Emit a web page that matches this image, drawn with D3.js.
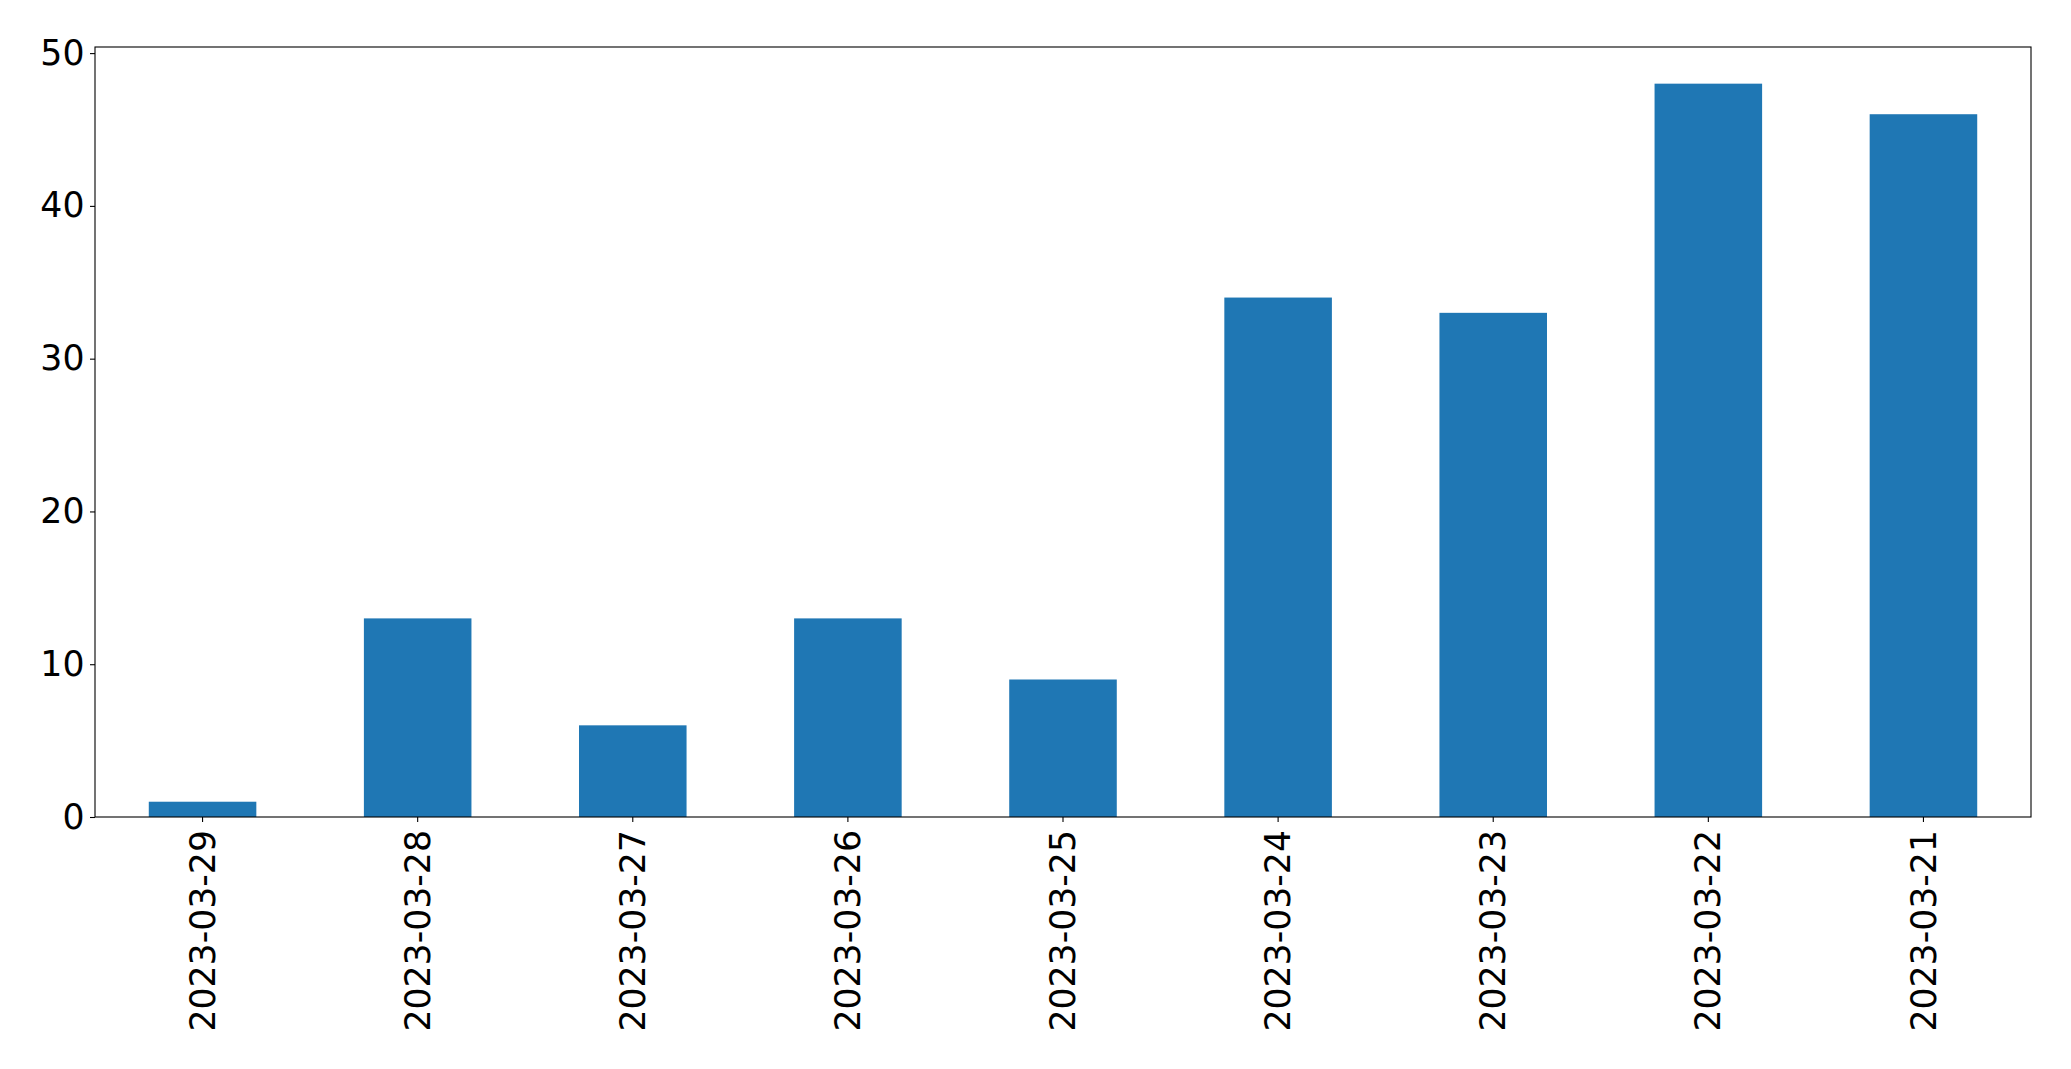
<!DOCTYPE html>
<html><head><meta charset="utf-8">
<script src="https://cdn.jsdelivr.net/npm/d3@7"></script>
<style>html,body{margin:0;padding:0;background:#fff;}svg{display:block;}</style>
</head><body>
<script>
const categories = ["2023-03-29","2023-03-28","2023-03-27","2023-03-26","2023-03-25","2023-03-24","2023-03-23","2023-03-22","2023-03-21"];
const values = [1, 13, 6, 13, 9, 34, 33, 48, 46];
const yTicks = [0, 10, 20, 30, 40, 50];

const W = 2071, H = 1069;
const m = {left: 95, top: 47, right: 2071 - 2031, bottom: 1069 - 817};
const iw = W - m.left - m.right, ih = H - m.top - m.bottom;
const fontSize = 34.7;

const svg = d3.select("body").append("svg").attr("width", W).attr("height", H);
const g = svg.append("g").attr("transform", `translate(${m.left},${m.top})`);

const x = d3.scaleBand().domain(categories).range([0, iw]).paddingInner(0.5).paddingOuter(0.25);
const y = d3.scaleLinear().domain([0, d3.max(values) * 1.05]).range([ih, 0]);

g.selectAll("rect.bar").data(values).join("rect")
  .attr("class", "bar")
  .attr("x", (d, i) => x(categories[i]))
  .attr("y", d => y(d))
  .attr("width", x.bandwidth())
  .attr("height", d => y(0) - y(d))
  .attr("fill", "#1f77b4");

const yAxis = g.append("g").call(d3.axisLeft(y).tickValues(yTicks).tickSize(5).tickPadding(5.5).tickFormat(d3.format("d")));
yAxis.select(".domain").remove();
yAxis.selectAll("line").attr("stroke", "#000").attr("stroke-width", 1.1);
yAxis.selectAll("text").attr("font-family", "DejaVu Sans").attr("font-size", fontSize).attr("fill", "#000");

const xAxis = g.append("g").attr("transform", `translate(0,${ih})`).call(d3.axisBottom(x).tickSize(5).tickPadding(0));
xAxis.select(".domain").remove();
xAxis.selectAll("line").attr("stroke", "#000").attr("stroke-width", 1.1);
xAxis.selectAll("text")
  .attr("font-family", "DejaVu Sans").attr("font-size", fontSize).attr("fill", "#000")
  .attr("transform", "translate(0,13) rotate(-90)")
  .attr("x", 0).attr("y", 0).attr("dy", "0.35em")
  .attr("text-anchor", "end");

g.append("rect").attr("x", 0).attr("y", 0).attr("width", iw).attr("height", ih)
  .attr("fill", "none").attr("stroke", "#000").attr("stroke-width", 1.1);
</script>
</body></html>
